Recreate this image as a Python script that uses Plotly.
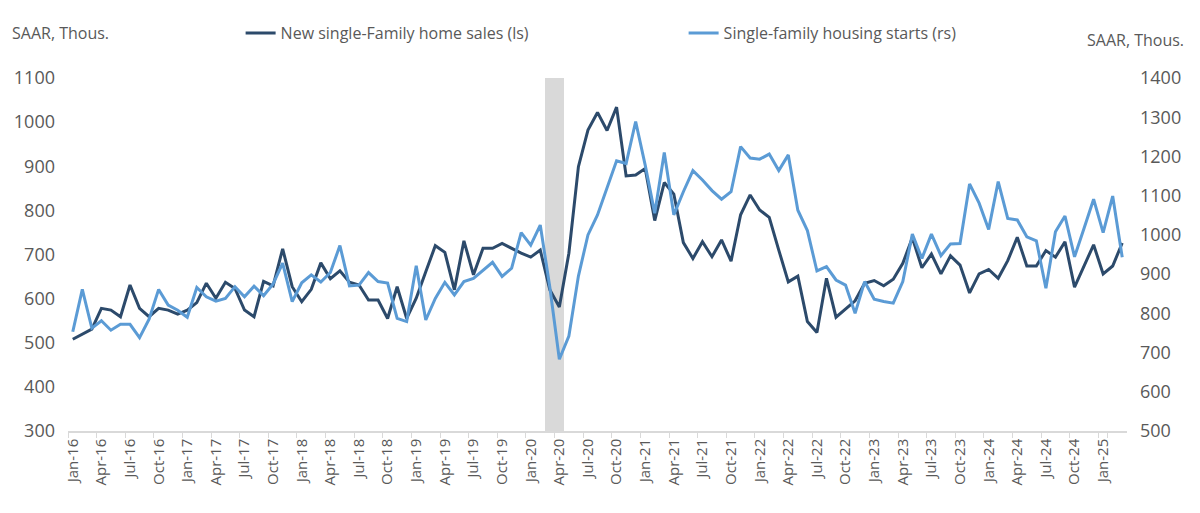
import pandas as pd
import plotly.graph_objects as go

months = [d.strftime("%b-%y") for d in pd.date_range("2016-01-01", "2025-03-01", freq="MS")]

home_sales = [
    508, 519, 531, 578, 574, 559, 631, 578, 559, 578, 574, 565,
    574, 591, 635, 601, 637, 623, 574, 559, 639, 629, 713, 627,
    593, 621, 681, 645, 663, 637, 631, 597, 597, 555, 627, 555,
    601, 661, 720, 705, 620, 731, 654, 714, 714, 725, 714, 703,
    694, 710, 620, 581, 703, 899, 982, 1022, 981, 1034, 878, 880,
    895, 777, 863, 837, 727, 691, 729, 695, 733, 685, 790, 835,
    801, 784, 710, 638, 651, 548, 523, 646, 558, 576, 595, 635,
    641, 629, 644, 680, 738, 670, 701, 656, 697, 676, 613, 656,
    666, 646, 686, 739, 674, 674, 709, 694, 729, 626, 674, 722,
    656, 674, 726,
]

housing_starts = [
    753, 861, 762, 781, 757, 772, 772, 738, 785, 861, 821, 808,
    790, 866, 842, 831, 838, 868, 842, 869, 845, 875, 928, 830,
    878, 898, 880, 904, 973, 870, 872, 904, 881, 877, 787, 779,
    921, 783, 838, 879, 847, 881, 889, 910, 930, 894, 915, 1006,
    974, 1025, 867, 683, 742, 895, 1000, 1051, 1119, 1189, 1182, 1289,
    1178, 1055, 1210, 1051, 1110, 1164, 1140, 1113, 1091, 1110, 1225, 1196,
    1193, 1206, 1164, 1204, 1063, 1011, 908, 919, 885, 872, 800, 881,
    836, 830, 826, 881, 1002, 940, 1002, 947, 977, 978, 1130, 1081,
    1014, 1136, 1042, 1038, 995, 985, 864, 1008, 1048, 944, 1017, 1091,
    1006, 1099, 943,
]

shade_months = ["Mar-20", "Apr-20"]
left_range = [300, 1100]
right_range = [500, 1400]
tick_months = months[::3]

DARK = "#2C4A6B"
LIGHT = "#5B9BD5"
TXT = "#595959"
FONT = "Open Sans, Noto Sans, sans-serif"

fig = go.Figure()

fig.add_trace(go.Bar(
    x=shade_months,
    y=[left_range[1] - left_range[0]] * len(shade_months),
    base=left_range[0],
    marker=dict(color="#D9D9D9", line=dict(width=0)),
    showlegend=False,
    hoverinfo="skip",
    yaxis="y",
))

fig.add_trace(go.Scatter(
    x=months, y=home_sales, mode="lines",
    name="New single-Family home sales (ls)",
    line=dict(color=DARK, width=3),
    yaxis="y",
))

fig.add_trace(go.Scatter(
    x=months, y=housing_starts, mode="lines",
    name="Single-family housing starts (rs)",
    line=dict(color=LIGHT, width=3),
    yaxis="y2",
))

fig.update_layout(
    width=1192, height=505,
    margin=dict(l=60, r=73, t=70, b=82, autoexpand=False),
    paper_bgcolor="white", plot_bgcolor="white",
    font=dict(family=FONT, color=TXT, size=16),
    bargap=0,
    showlegend=True,
    legend=dict(
        orientation="h", x=0.163, xanchor="left", y=1.1275, yanchor="middle",
        entrywidth=398, entrywidthmode="pixels",
        font=dict(size=16, color=TXT), bgcolor="rgba(0,0,0,0)",
        itemwidth=30,
    ),
    xaxis=dict(
        type="category", categoryorder="array", categoryarray=months,
        range=[-0.5, len(months) - 0.5],
        tickmode="array", tickvals=tick_months, ticktext=tick_months,
        tickangle=-90, tickfont=dict(size=15, color=TXT),
        showline=True, linecolor="#D9D9D9", linewidth=1.5,
        ticks="outside", ticklen=5, tickcolor="#D9D9D9", tickson="boundaries",
        showgrid=False, zeroline=False,
    ),
    yaxis=dict(
        range=left_range, dtick=100, showgrid=False, zeroline=False,
        showline=False, ticks="", tickfont=dict(size=18, color=TXT),
        ticklabelstandoff=12,
    ),
    yaxis2=dict(
        range=right_range, dtick=100, overlaying="y", side="right",
        showgrid=False, zeroline=False, showline=False, ticks="",
        tickfont=dict(size=18, color=TXT), ticklabelstandoff=12,
    ),
    annotations=[
        dict(text="SAAR, Thous.", xref="paper", yref="paper", x=-0.0545, y=1.1275,
             xanchor="left", yanchor="middle", showarrow=False,
             font=dict(size=16, color=TXT)),
        dict(text="SAAR, Thous.", xref="paper", yref="paper", x=1.0555, y=1.108,
             xanchor="right", yanchor="middle", showarrow=False,
             font=dict(size=16, color=TXT)),
    ],
)

fig.write_html("out.html")
